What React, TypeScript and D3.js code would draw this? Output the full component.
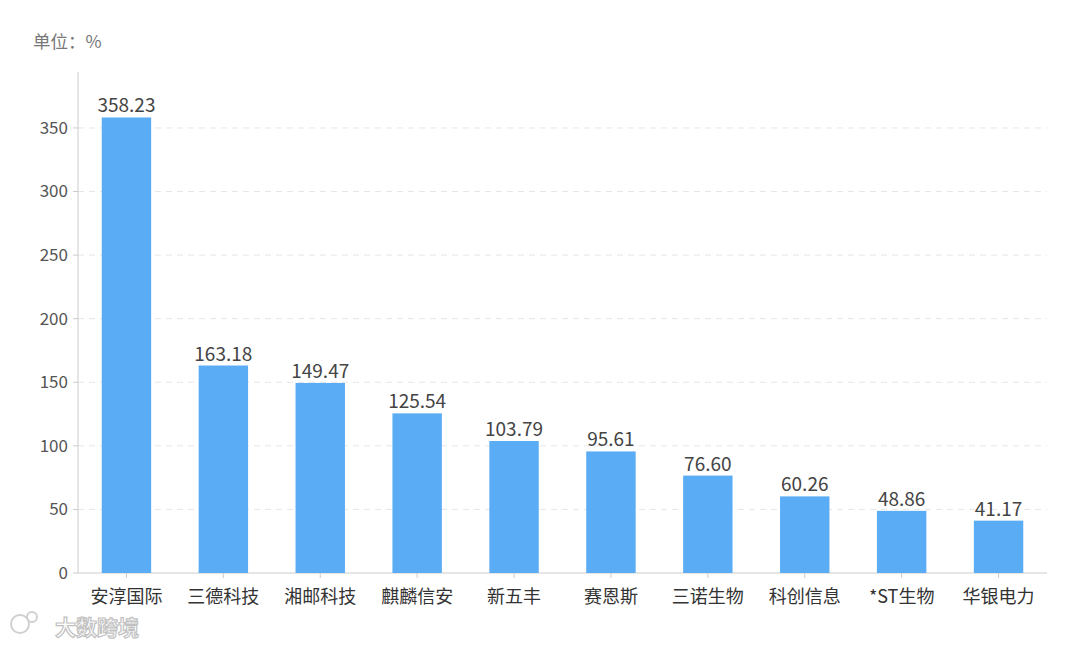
import React from "react";
import * as d3 from "d3";

const categories = ["安淳国际", "三德科技", "湘邮科技", "麒麟信安", "新五丰", "赛恩斯", "三诺生物", "科创信息", "*ST生物", "华银电力"];
const values = [358.23, 163.18, 149.47, 125.54, 103.79, 95.61, 76.6, 60.26, 48.86, 41.17];
const yTicks = [0, 50, 100, 150, 200, 250, 300, 350];

const W = 1080, H = 647;
const left = 78, right = 1047, top = 72, bottom = 573;
const font = "'Microsoft YaHei','Noto Sans CJK SC','Noto Sans',sans-serif";

export default function App() {
  const x = d3.scaleBand<string>().domain(categories).range([left, right]).paddingInner(0).paddingOuter(0);
  const y = d3.scaleLinear().domain([0, 394]).range([bottom, top]);
  const bw = x.bandwidth() * 0.51;
  return (
    <svg width={W} height={H} style={{ position: "absolute", left: 0, top: 0, background: "#fff" }}>
      <text x={33} y={48} fontSize={17.5} fill="#777" fontFamily={font}>单位：%</text>
      {yTicks.map((t) => (
        <g key={t}>
          {t > 0 && (
            <line x1={left} x2={right} y1={y(t)} y2={y(t)} stroke="#e6e6e6" strokeDasharray="6,5" />
          )}
          <line x1={left - 5} x2={left} y1={y(t)} y2={y(t)} stroke="#ccc" />
          <text x={left - 10} y={y(t)} dy="0.35em" textAnchor="end" fontSize={17} fill="#555" fontFamily={font}>{t}</text>
        </g>
      ))}
      <line x1={left} x2={left} y1={top} y2={bottom} stroke="#ccc" />
      <line x1={left} x2={right} y1={bottom} y2={bottom} stroke="#ccc" />
      {categories.map((c, i) => {
        const cx = (x(c) as number) + x.bandwidth() / 2;
        return (
          <g key={c}>
            <rect x={cx - bw / 2} y={y(values[i])} width={bw} height={bottom - y(values[i])} fill="#5aadf4" />
            <text x={cx} y={y(values[i]) - 5} textAnchor="middle" fontSize={19} fill="#444" fontFamily={font}>{values[i].toFixed(2)}</text>
            <line x1={cx} x2={cx} y1={bottom} y2={bottom + 5} stroke="#ccc" />
            <text x={cx} y={603} textAnchor="middle" fontSize={18} fill="#333" fontFamily={font}>{c}</text>
          </g>
        );
      })}
      <g opacity={0.9}>
        <circle cx={20} cy={624} r={9} fill="none" stroke="#ccc" strokeWidth={2} />
        <circle cx={32} cy={617} r={5} fill="none" stroke="#ccc" strokeWidth={2} />
        <text x={55} y={635} fontSize={21} fontWeight="bold" fill="#fff" stroke="#bbb" strokeWidth={1.2} fontFamily={font}>大数跨境</text>
      </g>
    </svg>
  );
}
